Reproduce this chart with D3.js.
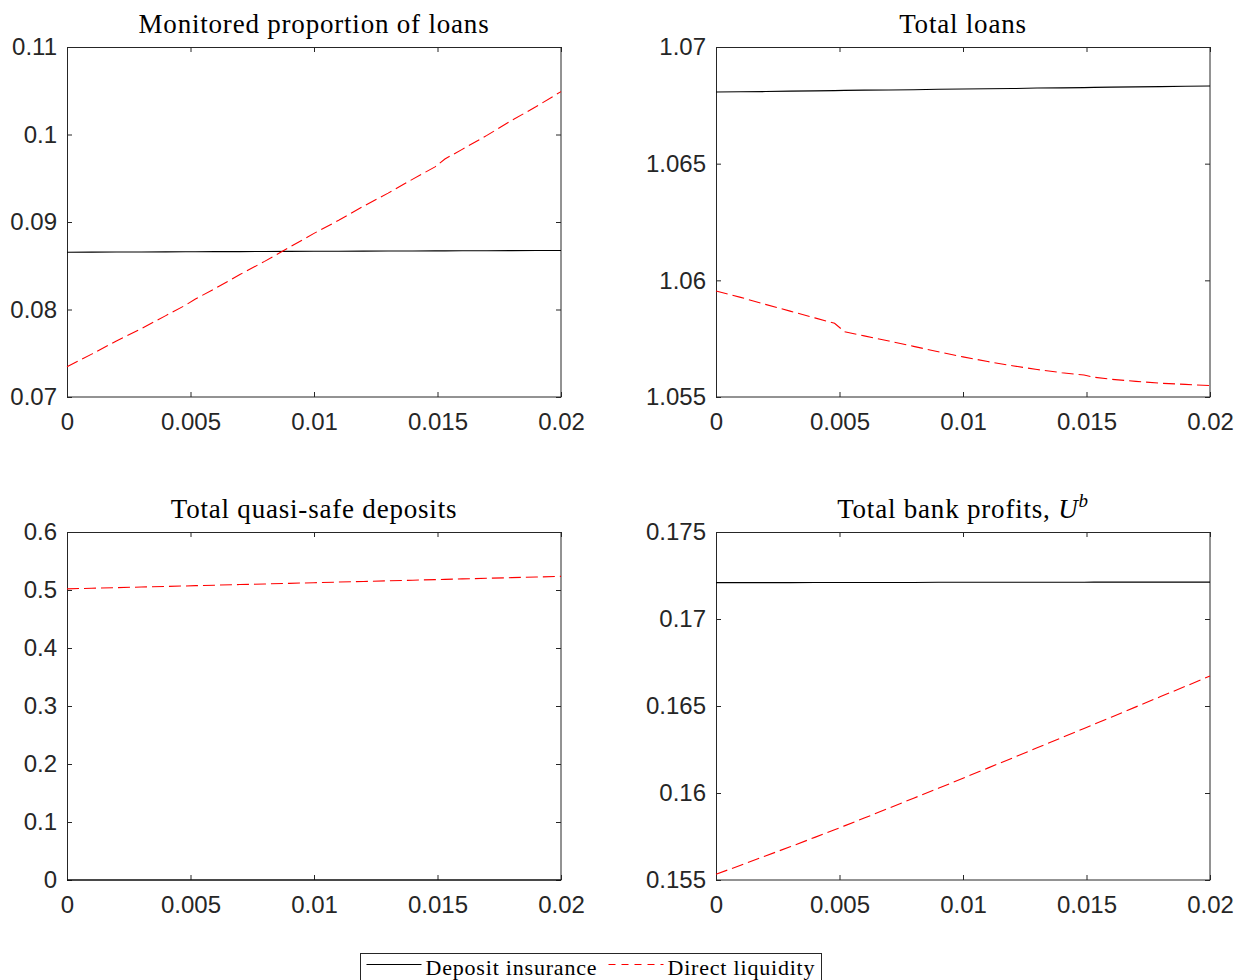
<!DOCTYPE html>
<html>
<head>
<meta charset="utf-8">
<script src="https://cdn.jsdelivr.net/npm/d3@7"></script>
<style>
  html, body { margin: 0; padding: 0; background: #fff; }
  svg { display: block; }
  .tick-label { font-family: "Liberation Sans", Arial, sans-serif; font-size: 24px; fill: #262626; }
  .title { font-family: "Liberation Serif", "Times New Roman", serif; font-size: 27px; fill: #000; letter-spacing: 0.8px; }
  .legend-text { font-family: "Liberation Serif", "Times New Roman", serif; font-size: 22px; fill: #000; letter-spacing: 0.8px; }
</style>
</head>
<body>
<svg id="chart" width="1236" height="980"></svg>
<script>
// Policy parameter grid (horizontal axis of every panel)
const xGrid = [0, 0.001, 0.002, 0.003, 0.004, 0.0048, 0.0052, 0.006, 0.007, 0.008, 0.009,
               0.010, 0.011, 0.012, 0.013, 0.014, 0.0149, 0.0153, 0.016, 0.017, 0.018, 0.019, 0.020];

// Monitored proportion of loans
const monitoredDeposit = [0.08655, 0.08656, 0.08657, 0.08658, 0.08659, 0.08660, 0.08660, 0.08661, 0.08662,
                          0.08663, 0.08664, 0.08665, 0.08666, 0.08667, 0.08668, 0.08669, 0.08670, 0.08670,
                          0.08671, 0.08672, 0.08673, 0.08674, 0.08675];
const monitoredLiquidity = [0.07345, 0.0749, 0.0764, 0.0778, 0.0793, 0.0805, 0.0812, 0.0824, 0.0840, 0.0855,
                            0.0871, 0.0887, 0.0902, 0.0918, 0.0933, 0.0949, 0.0963, 0.0972, 0.0983, 0.0999,
                            0.1016, 0.1032, 0.1049];

// Total loans
const loansDeposit = [1.06807, 1.06808, 1.06809, 1.06811, 1.06812, 1.06813, 1.06814, 1.06815, 1.06816,
                      1.06817, 1.06819, 1.06820, 1.06821, 1.06822, 1.06824, 1.06825, 1.06826, 1.06827,
                      1.06828, 1.06829, 1.06830, 1.06832, 1.06833];
const loansLiquidity = [1.05954, 1.05927, 1.05897, 1.05868, 1.05839, 1.05816, 1.05780, 1.05762, 1.05740,
                        1.05717, 1.05694, 1.05672, 1.05652, 1.05634, 1.05618, 1.05604, 1.05594, 1.05585,
                        1.05576, 1.05567, 1.05559, 1.05554, 1.05549];

// Total quasi-safe deposits
const depositsDeposit = [0, 0, 0, 0, 0, 0, 0, 0, 0, 0, 0, 0, 0, 0, 0, 0, 0, 0, 0, 0, 0, 0, 0];
const depositsLiquidity = [0.5020, 0.5030, 0.5041, 0.5051, 0.5062, 0.5070, 0.5075, 0.5083, 0.5094, 0.5104,
                           0.5115, 0.5126, 0.5137, 0.5147, 0.5158, 0.5169, 0.5179, 0.5183, 0.5191, 0.5202,
                           0.5213, 0.5224, 0.5235];

// Total bank profits
const profitsDeposit = [0.17209, 0.17209, 0.17209, 0.17209, 0.17210, 0.17210, 0.17210, 0.17210, 0.17210,
                        0.17210, 0.17211, 0.17211, 0.17211, 0.17211, 0.17211, 0.17211, 0.17211, 0.17212,
                        0.17212, 0.17212, 0.17212, 0.17212, 0.17212];
const profitsLiquidity = [0.15533, 0.15585, 0.15638, 0.15691, 0.15745, 0.15789, 0.15811, 0.15856, 0.15913,
                          0.15970, 0.16027, 0.16085, 0.16143, 0.16201, 0.16260, 0.16318, 0.16371, 0.16395,
                          0.16436, 0.16495, 0.16554, 0.16613, 0.16672];

// Axis ticks
const xTicks = [0, 0.005, 0.01, 0.015, 0.02];
const xTickLabels = ["0", "0.005", "0.01", "0.015", "0.02"];
const monitoredTicks = [0.07, 0.08, 0.09, 0.1, 0.11];
const monitoredTickLabels = ["0.07", "0.08", "0.09", "0.1", "0.11"];
const loansTicks = [1.055, 1.06, 1.065, 1.07];
const loansTickLabels = ["1.055", "1.06", "1.065", "1.07"];
const depositsTicks = [0, 0.1, 0.2, 0.3, 0.4, 0.5, 0.6];
const depositsTickLabels = ["0", "0.1", "0.2", "0.3", "0.4", "0.5", "0.6"];
const profitsTicks = [0.155, 0.16, 0.165, 0.17, 0.175];
const profitsTickLabels = ["0.155", "0.16", "0.165", "0.17", "0.175"];

const seriesNames = ["Deposit insurance", "Direct liquidity"];

const svg = d3.select("#chart");
const axisColor = "#262626";
const redColor = "#ff0000";
const dashPlot = "12,5";

const panels = [
  { title: "Monitored proportion of loans", di: monitoredDeposit, dl: monitoredLiquidity,
    ticks: monitoredTicks, labels: monitoredTickLabels, col: 0, row: 0 },
  { title: "Total loans", di: loansDeposit, dl: loansLiquidity,
    ticks: loansTicks, labels: loansTickLabels, col: 1, row: 0 },
  { title: "Total quasi-safe deposits", di: depositsDeposit, dl: depositsLiquidity,
    ticks: depositsTicks, labels: depositsTickLabels, col: 0, row: 1 },
  { title: null, di: profitsDeposit, dl: profitsLiquidity,
    ticks: profitsTicks, labels: profitsTickLabels, col: 1, row: 1 }
];

const colLeft = [67, 716];
const colWidth = 494;
const rowTop = [47, 532];
const rowHeight = [350, 348];
const tickLen = 5;

panels.forEach((p, i) => {
  const left = colLeft[p.col], top = rowTop[p.row];
  const w = colWidth, h = rowHeight[p.row];
  const x = d3.scaleLinear().domain([xTicks[0], xTicks[xTicks.length - 1]]).range([0, w]);
  const y = d3.scaleLinear().domain([p.ticks[0], p.ticks[p.ticks.length - 1]]).range([h, 0]);

  const g = svg.append("g").attr("transform", `translate(${left},${top})`);

  g.append("clipPath").attr("id", "clip" + i)
    .append("rect").attr("x", -1).attr("y", -1).attr("width", w + 2).attr("height", h + 2);

  // Box
  g.append("rect").attr("x", 0.5).attr("y", 0.5).attr("width", w - 0.5).attr("height", h - 0.5)
    .attr("fill", "none").attr("stroke", axisColor).attr("stroke-width", 1);

  // Bottom axis: ticks pointing inward, labels below
  const xAxis = d3.axisBottom(x).tickValues(xTicks).tickSizeInner(-tickLen).tickSizeOuter(0)
    .tickPadding(16).tickFormat((d, k) => xTickLabels[k]);
  const gx = g.append("g").attr("transform", `translate(0,${h})`).call(xAxis);
  gx.select(".domain").remove();
  gx.selectAll("line").attr("stroke", axisColor);
  gx.selectAll("text").attr("class", "tick-label").attr("fill", null);
  gx.attr("font-size", null).attr("font-family", null);

  // Top axis ticks
  const xTop = d3.axisTop(x).tickValues(xTicks).tickSizeInner(-tickLen).tickSizeOuter(0).tickFormat("");
  const gxt = g.append("g").call(xTop);
  gxt.select(".domain").remove();
  gxt.selectAll("line").attr("stroke", axisColor);

  // Left axis
  const yAxis = d3.axisLeft(y).tickValues(p.ticks).tickSizeInner(-tickLen).tickSizeOuter(0)
    .tickPadding(10).tickFormat((d, k) => p.labels[k]);
  const gy = g.append("g").call(yAxis);
  gy.select(".domain").remove();
  gy.selectAll("line").attr("stroke", axisColor);
  gy.selectAll("text").attr("class", "tick-label").attr("fill", null);
  gy.attr("font-size", null).attr("font-family", null);

  // Right axis ticks
  const yRight = d3.axisRight(y).tickValues(p.ticks).tickSizeInner(-tickLen).tickSizeOuter(0).tickFormat("");
  const gyr = g.append("g").attr("transform", `translate(${w},0)`).call(yRight);
  gyr.select(".domain").remove();
  gyr.selectAll("line").attr("stroke", axisColor);

  // Series
  const line = d3.line().x((d, k) => x(xGrid[k])).y(d => y(d));
  const lines = g.append("g").attr("clip-path", `url(#clip${i})`);
  lines.append("path").datum(p.di).attr("d", line)
    .attr("fill", "none").attr("stroke", "#000").attr("stroke-width", 1.1);
  lines.append("path").datum(p.dl).attr("d", line)
    .attr("fill", "none").attr("stroke", redColor).attr("stroke-width", 1.1)
    .attr("stroke-dasharray", dashPlot);

  // Title
  const t = g.append("text").attr("class", "title").attr("x", w / 2).attr("y", -14)
    .attr("text-anchor", "middle");
  if (p.title) {
    t.text(p.title);
  } else {
    t.append("tspan").text("Total bank profits, ");
    t.append("tspan").attr("font-style", "italic").text("U");
    t.append("tspan").attr("font-style", "italic").attr("font-size", "19px").attr("dy", -11).text("b");
  }
});

// Legend
const lg = svg.append("g").attr("transform", "translate(360.5,953.5)");
lg.append("rect").attr("x", 0).attr("y", 0).attr("width", 461).attr("height", 40)
  .attr("fill", "#fff").attr("stroke", axisColor).attr("stroke-width", 1);
lg.append("line").attr("x1", 6).attr("x2", 61).attr("y1", 11).attr("y2", 11)
  .attr("stroke", "#000").attr("stroke-width", 1.1);
lg.append("text").attr("class", "legend-text").attr("x", 65).attr("y", 21).text(seriesNames[0]);
lg.append("line").attr("x1", 248).attr("x2", 303).attr("y1", 11).attr("y2", 11)
  .attr("stroke", redColor).attr("stroke-width", 1.1).attr("stroke-dasharray", "7,6");
lg.append("text").attr("class", "legend-text").attr("x", 307).attr("y", 21).text(seriesNames[1]);
</script>
</body>
</html>
